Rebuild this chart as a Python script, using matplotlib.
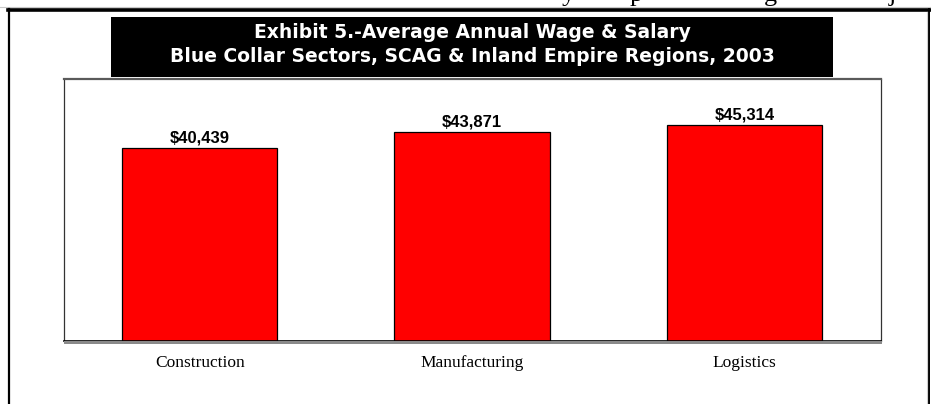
import matplotlib
matplotlib.use('Agg')
import matplotlib.pyplot as plt
from matplotlib.patches import Rectangle
from matplotlib.lines import Line2D

W, H = 931, 404

sectors = ['Construction', 'Manufacturing', 'Logistics']
wages = [40439, 43871, 45314]
title_lines = ['Exhibit 5.-Average Annual Wage & Salary',
               'Blue Collar Sectors, SCAG & Inland Empire Regions, 2003']


def fx(x):
    return x / W


def fy(y):
    return 1 - y / H


def main():
    fig = plt.figure(figsize=(W / 100, H / 100), dpi=100)
    fig.patch.set_facecolor('white')

    # bits of the line of text above the frame (only descenders show)
    for ch, x in [('y', 568), ('p', 636), ('g', 770), ('j', 892)]:
        fig.text(fx(x), fy(1), ch, family='Liberation Serif', fontsize=19,
                 ha='center', va='baseline', color='black')

    # outer frame
    fig.add_artist(Line2D([0, 1], [fy(7), fy(7)], color='#c8c8c8', lw=0.8))
    fig.add_artist(Line2D([fx(8), fx(930)], [fy(10.2), fy(10.2)], color='black', lw=2.6))
    fig.add_artist(Line2D([fx(9), fx(9)], [fy(9), 0], color='black', lw=1.6))
    fig.add_artist(Line2D([fx(929.3), fx(929.3)], [fy(9), 0], color='black', lw=1.4))
    fig.add_artist(Line2D([fx(927), fx(927)], [fy(12), 0], color='#cfcfcf', lw=0.8))

    # title block
    fig.add_artist(Rectangle((fx(111), fy(77)), fx(833) - fx(111), fy(17) - fy(77),
                             facecolor='black', edgecolor='none'))
    fig.text(fx(472), fy(33), title_lines[0], color='white', family='DejaVu Sans',
             weight='bold', fontsize=13.5, ha='center', va='center')
    fig.text(fx(472), fy(57), title_lines[1], color='white', family='DejaVu Sans',
             weight='bold', fontsize=13.5, ha='center', va='center')

    # shadow under the plot box
    fig.add_artist(Rectangle((fx(64), fy(343.5)), fx(882) - fx(64), fy(341) - fy(343.5),
                             facecolor='#8a8a8a', edgecolor='none'))

    ax = fig.add_axes([fx(63.5), fy(340.7), fx(880.6) - fx(63.5), fy(79) - fy(340.7)])
    xs = [0.5, 1.5, 2.5]
    bars = ax.bar(xs, wages, width=0.57, color='#ff0000', edgecolor='black', linewidth=0.9)
    for b, v in zip(bars, wages):
        ax.annotate('${:,}'.format(v), (b.get_x() + b.get_width() / 2, v),
                    xytext=(0, 2), textcoords='offset points', ha='center', va='bottom',
                    family='Liberation Sans', weight='bold', fontsize=12)

    ax.set_xlim(0, 3)
    ax.set_ylim(0, 55000)
    ax.set_yticks([])
    ax.set_xticks(xs)
    ax.set_xticklabels(sectors, family='Liberation Serif', fontsize=12.5)
    ax.tick_params(axis='x', length=0, pad=10)
    for s in ['left', 'right']:
        ax.spines[s].set_linewidth(0.9)
        ax.spines[s].set_color('#333333')
    ax.spines['top'].set_color('#5a5a5a')
    ax.spines['top'].set_linewidth(1.6)
    ax.spines['bottom'].set_color('black')
    ax.spines['bottom'].set_linewidth(1.2)

    fig.savefig('out.png', dpi=100)


if __name__ == '__main__':
    main()
